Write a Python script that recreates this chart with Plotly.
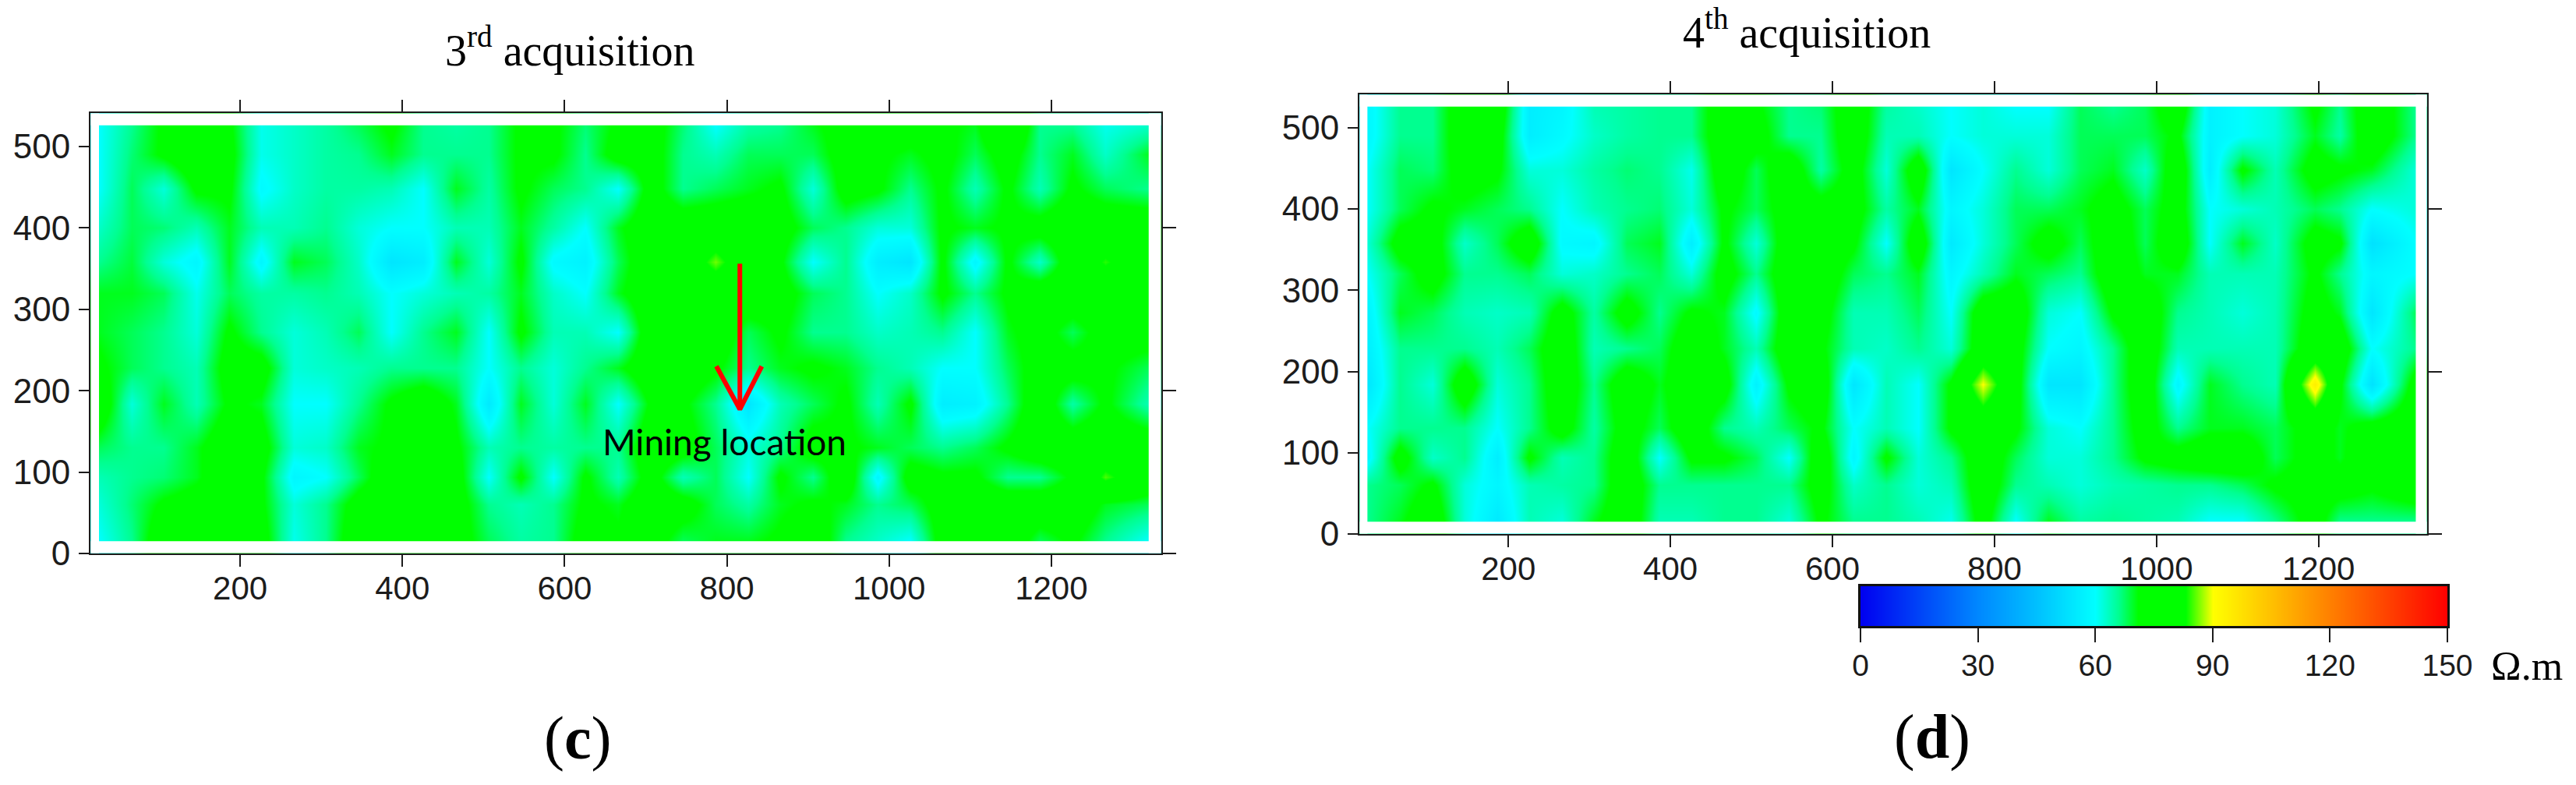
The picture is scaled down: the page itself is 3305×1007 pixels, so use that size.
import plotly.graph_objects as go

W, H = 3305, 1007

# sampling columns / rows of the two resistivity sections
x_c = [26, 66, 106, 146, 186, 226, 266, 306, 346, 386, 426, 466, 506, 546, 586, 626, 666,
       706, 746, 786, 826, 866, 906, 946, 986, 1026, 1066, 1106, 1146, 1186, 1226, 1266, 1320]
x_d = [26, 66, 106, 146, 186, 226, 266, 306, 346, 386, 426, 466, 506, 546, 586, 626, 666,
       706, 746, 786, 826, 866, 906, 946, 986, 1026, 1066, 1106, 1146, 1195, 1226, 1266, 1320]
y_rows = [526, 490, 448, 400, 358, 320, 272, 228, 184, 130, 94, 60, 15]

# 3rd acquisition, top row first
z_c = [
    [60, 66, 72, 76, 72, 61, 63, 65, 68, 72, 66, 65, 66, 72, 72, 67, 72, 74, 67, 60, 65, 66, 70, 74, 76, 74, 72, 70, 80, 66, 66, 61, 63],
    [60, 67, 72, 76, 73, 61, 63, 65, 66, 70, 66, 66, 66, 72, 72, 66, 74, 74, 66, 64, 68, 68, 68, 74, 72, 70, 73, 68, 74, 66, 70, 63, 70],
    [60, 68, 62, 72, 72, 59, 63, 65, 65, 64, 60, 70, 65, 72, 68, 66, 60, 74, 66, 68, 70, 72, 62, 74, 72, 66, 72, 64, 72, 64, 72, 68, 66],
    [63, 68, 67, 64, 70, 64, 64, 66, 62, 60, 60, 64, 64, 70, 65, 60, 70, 76, 76, 76, 76, 74, 68, 66, 62, 62, 72, 70, 72, 74, 76, 76, 76],
    [66, 69, 62, 58, 70, 58, 70, 68, 63, 54, 56, 70, 62, 72, 59, 57, 68, 76, 76, 86, 76, 72, 60, 66, 56, 54, 72, 58, 72, 63, 76, 84, 76],
    [70, 70, 68, 61, 68, 65, 65, 66, 64, 60, 62, 64, 65, 70, 63, 60, 70, 76, 76, 76, 76, 74, 68, 66, 60, 63, 72, 66, 72, 76, 76, 76, 76],
    [70, 68, 66, 62, 72, 66, 62, 64, 68, 60, 66, 70, 60, 72, 64, 64, 60, 76, 76, 76, 68, 72, 66, 66, 63, 64, 66, 60, 70, 74, 68, 74, 74],
    [72, 68, 66, 64, 74, 74, 62, 63, 64, 66, 66, 66, 60, 66, 62, 66, 70, 76, 76, 72, 66, 70, 72, 70, 66, 64, 60, 60, 68, 74, 74, 72, 68],
    [76, 62, 70, 64, 72, 70, 60, 60, 66, 72, 76, 70, 55, 70, 62, 70, 60, 72, 72, 66, 54, 64, 68, 72, 64, 72, 56, 57, 66, 76, 65, 72, 64],
    [68, 66, 66, 70, 76, 74, 62, 63, 70, 72, 76, 72, 64, 66, 65, 66, 66, 76, 74, 68, 62, 66, 74, 72, 70, 68, 66, 68, 72, 76, 76, 76, 76],
    [64, 66, 67, 70, 76, 72, 58, 60, 68, 76, 76, 74, 60, 72, 60, 72, 64, 74, 64, 68, 60, 72, 66, 76, 58, 74, 72, 72, 66, 66, 72, 85, 76],
    [62, 67, 72, 74, 76, 72, 62, 66, 74, 76, 76, 74, 66, 64, 66, 72, 70, 76, 74, 68, 65, 70, 72, 70, 66, 68, 74, 76, 76, 76, 76, 70, 68],
    [60, 66, 76, 76, 76, 74, 61, 66, 76, 80, 76, 74, 68, 65, 66, 74, 72, 74, 68, 70, 70, 72, 76, 66, 63, 60, 74, 76, 76, 68, 72, 66, 60],
]

# 4th acquisition, top row first
z_d = [
    [58, 66, 66, 76, 76, 56, 58, 64, 65, 66, 66, 76, 72, 66, 67, 76, 65, 63, 60, 62, 60, 60, 68, 66, 68, 76, 57, 60, 62, 72, 66, 76, 66],
    [58, 66, 66, 76, 74, 56, 59, 63, 65, 66, 66, 76, 74, 66, 66, 76, 64, 64, 60, 62, 62, 62, 68, 68, 68, 72, 57, 60, 62, 70, 65, 76, 66],
    [60, 68, 67, 74, 72, 62, 62, 65, 67, 66, 61, 76, 68, 76, 65, 74, 62, 76, 54, 60, 66, 62, 68, 70, 63, 76, 56, 72, 64, 74, 72, 70, 62],
    [60, 68, 72, 70, 68, 66, 60, 64, 66, 67, 62, 72, 68, 74, 74, 74, 65, 70, 58, 62, 68, 68, 70, 74, 68, 74, 60, 62, 64, 68, 66, 60, 62],
    [62, 74, 74, 63, 68, 76, 59, 58, 68, 70, 56, 72, 62, 76, 76, 72, 60, 76, 55, 62, 68, 74, 68, 76, 68, 76, 60, 70, 63, 74, 72, 53, 60],
    [60, 68, 74, 66, 66, 68, 62, 63, 66, 68, 62, 74, 66, 76, 76, 68, 66, 70, 58, 64, 70, 68, 66, 76, 70, 70, 64, 64, 64, 72, 66, 58, 60],
    [57, 70, 68, 64, 63, 64, 74, 65, 74, 66, 72, 70, 59, 76, 74, 64, 64, 68, 60, 76, 76, 62, 60, 72, 76, 66, 64, 62, 64, 74, 70, 54, 68],
    [56, 66, 66, 66, 64, 68, 76, 64, 66, 68, 76, 70, 64, 76, 72, 64, 63, 66, 62, 76, 74, 60, 58, 66, 76, 64, 64, 64, 64, 76, 76, 60, 66],
    [54, 66, 62, 76, 62, 66, 76, 66, 76, 70, 76, 74, 57, 72, 76, 54, 64, 60, 72, 90, 74, 54, 54, 66, 76, 58, 70, 66, 64, 94, 72, 53, 74],
    [60, 66, 66, 66, 60, 66, 74, 65, 74, 68, 76, 66, 64, 68, 72, 60, 64, 60, 72, 76, 72, 62, 60, 66, 74, 66, 70, 70, 68, 74, 70, 74, 76],
    [58, 74, 63, 66, 56, 72, 64, 66, 76, 60, 72, 72, 68, 60, 76, 58, 72, 62, 66, 76, 68, 62, 62, 66, 72, 74, 76, 76, 68, 74, 70, 76, 76],
    [66, 68, 72, 62, 58, 64, 65, 66, 76, 66, 66, 66, 66, 66, 74, 63, 66, 62, 64, 76, 66, 64, 62, 64, 65, 66, 66, 68, 72, 74, 74, 72, 76],
    [66, 70, 76, 62, 55, 64, 62, 70, 76, 64, 64, 66, 66, 62, 72, 66, 66, 64, 61, 74, 60, 70, 65, 66, 65, 64, 60, 60, 66, 74, 66, 66, 66],
]

color_vals = [0, 30, 45, 60, 66, 71, 83, 90, 105, 120, 135, 150]
color_hex = ["#0000f0", "#0088ff", "#00c0ff", "#00ffff", "#00ff90", "#00ff00", "#00ff00",
             "#ffff00", "#ffc000", "#ff8000", "#ff4000", "#ff0000"]
scale_ticks = [0, 30, 60, 90, 120, 150]

x_ticks = [200, 400, 600, 800, 1000, 1200]
y_ticks = [0, 100, 200, 300, 400, 500]
right_ticks = [0, 200, 400]

# mining arrow on panel c
arrow_x = [816, 816, None, 787, 816, 843]
arrow_y = [356, 177, None, 230, 177, 230]

colorscale = [[v / 150, c] for v, c in zip(color_vals, color_hex)]
ink = "#1c1c1c"
sans = "Liberation Sans"
serif = "Liberation Serif"
y_top = 541


def dom_x(a, b):
    return [a / W, b / W]


def dom_y(top, bottom):
    return [1 - bottom / H, 1 - top / H]


def xaxis_style(dom, rng, anchor):
    return dict(domain=dom, range=rng, anchor=anchor, tickmode="array", tickvals=x_ticks,
                ticks="outside", ticklen=15, tickwidth=2, tickcolor=ink, showline=True,
                linecolor=ink, linewidth=2, mirror="ticks", showgrid=False, zeroline=False,
                ticklabelstandoff=-8, tickfont=dict(family=sans, size=42, color=ink))


def yaxis_style(dom, anchor):
    return dict(domain=dom, range=[0, y_top], anchor=anchor, tickmode="array", tickvals=y_ticks,
                ticks="outside", ticklen=13, tickwidth=2, tickcolor=ink, showline=True,
                linecolor=ink, linewidth=2, mirror=True, showgrid=False, zeroline=False,
                ticklabelstandoff=2, tickfont=dict(family=sans, size=44, color=ink))


def right_axis(anchor, over):
    return dict(overlaying=over, side="right", anchor=anchor, range=[0, y_top], tickmode="array",
                tickvals=right_ticks, ticks="outside", ticklen=18, tickwidth=2, tickcolor=ink,
                showticklabels=False, showline=False, showgrid=False, zeroline=False)


def label(text, px, py, size, family=serif, anchor="left"):
    return dict(text=text, xref="paper", yref="paper", x=px / W, y=1 - py / H, xanchor=anchor,
                yanchor="middle", showarrow=False, font=dict(family=family, size=size, color="black"))


# white strips between the data block and the frame (the heatmap bricks run past the samples)
def white_band(xref, yref, xr, xs):
    common = dict(type="rect", xref=xref, yref=yref, fillcolor="white", line_width=0, layer="above")
    return [
        dict(x0=xr[0] + 0.5, x1=xs[0], y0=0.5, y1=y_top - 0.5, **common),
        dict(x0=xs[-1], x1=xr[1] - 0.5, y0=0.5, y1=y_top - 0.5, **common),
        dict(x0=xr[0] + 0.5, x1=xr[1] - 0.5, y0=0.5, y1=y_rows[-1], **common),
        dict(x0=xr[0] + 0.5, x1=xr[1] - 0.5, y0=y_rows[0], y1=y_top - 0.5, **common),
    ]


range_c = [15.4, 1335.6]
range_d = [16, 1334]

fig = go.Figure()
fig.add_trace(go.Heatmap(x=x_c, y=y_rows[::-1], z=z_c[::-1], zmin=0, zmax=150, zsmooth="best",
                         colorscale=colorscale, showscale=False, hoverinfo="skip",
                         xaxis="x", yaxis="y"))
fig.add_trace(go.Heatmap(x=x_d, y=y_rows[::-1], z=z_d[::-1], zmin=0, zmax=150, zsmooth="best",
                         colorscale=colorscale, showscale=False, hoverinfo="skip",
                         xaxis="x2", yaxis="y2"))
# resistivity scale bar: the palette nodes themselves, on their own axis
fig.add_trace(go.Heatmap(x=color_vals, y=[0, 1], z=[color_vals, color_vals], zmin=0, zmax=150,
                         zsmooth="best", colorscale=colorscale, showscale=False, hoverinfo="skip",
                         xaxis="x3", yaxis="y5"))
fig.add_trace(go.Scatter(x=arrow_x, y=arrow_y, mode="lines", xaxis="x", yaxis="y",
                         line=dict(color="#ff0000", width=6), hoverinfo="skip", showlegend=False))
# empty traces so the right-hand tick axes get drawn
fig.add_trace(go.Scatter(x=[None], y=[None], mode="lines", xaxis="x", yaxis="y3", showlegend=False))
fig.add_trace(go.Scatter(x=[None], y=[None], mode="lines", xaxis="x2", yaxis="y4", showlegend=False))

fig.update_layout(
    width=W, height=H, paper_bgcolor="white", plot_bgcolor="white", showlegend=False,
    margin=dict(l=0, r=0, t=0, b=0, autoexpand=False),
    xaxis=xaxis_style(dom_x(116, 1490), range_c, "y"),
    yaxis=yaxis_style(dom_y(145, 710), "x"),
    xaxis2=xaxis_style(dom_x(1744, 3114), range_d, "y2"),
    yaxis2=yaxis_style(dom_y(121, 685), "x2"),
    yaxis3=right_axis("x", "y"),
    yaxis4=right_axis("x2", "y2"),
    xaxis3=dict(domain=dom_x(2387, 3140), range=[0, 150], anchor="y5", tickmode="array",
                tickvals=scale_ticks, ticks="outside", ticklen=18, tickwidth=2, tickcolor=ink,
                showline=True, linecolor="#111111", linewidth=3, mirror=True, showgrid=False,
                zeroline=False, ticklabelstandoff=-4,
                tickfont=dict(family=sans, size=39, color=ink)),
    yaxis5=dict(domain=dom_y(752, 803), range=[0, 1], anchor="x3", showticklabels=False,
                ticks="", showline=True, linecolor="#111111", linewidth=3, mirror=True,
                showgrid=False, zeroline=False),
    shapes=white_band("x", "y", range_c, x_c) + white_band("x2", "y2", range_d, x_d),
    annotations=[
        label("3<sup>rd</sup> acquisition", 569, 60, 56),
        label("4<sup>th</sup> acquisition", 2157, 38, 56),
        label("Mining location", 771, 566, 46, family="Lato"),
        label("(<b>c</b>)", 696, 946, 78),
        label("(<b>d</b>)", 2428, 945, 80),
        label("Ω.m", 3194, 854, 52),
    ],
)

fig.write_html("out.html", config=dict(displayModeBar=False),
               post_script="document.body.style.margin='0';")
